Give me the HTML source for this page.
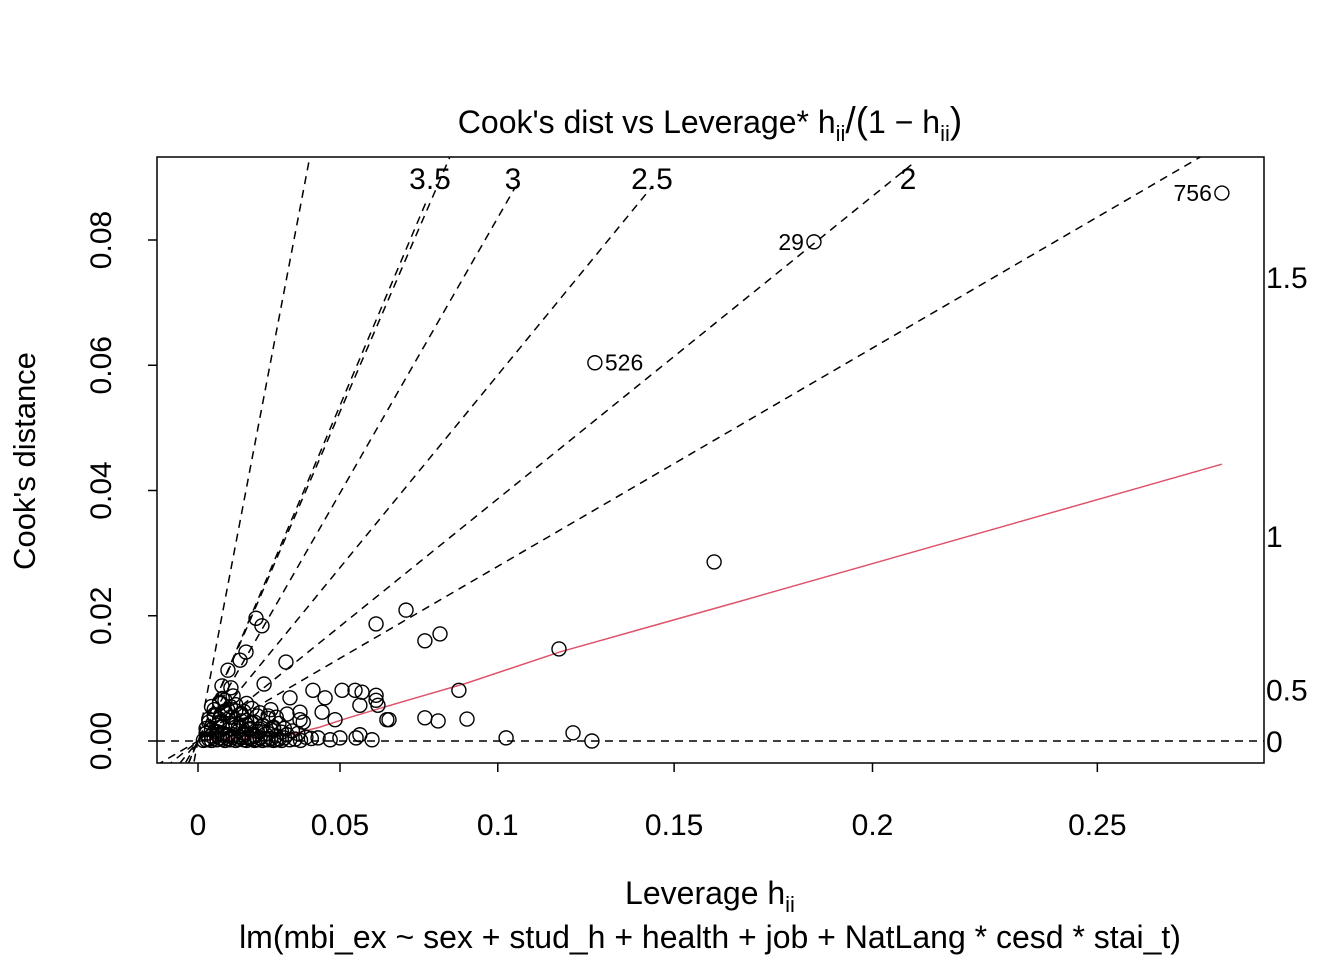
<!DOCTYPE html>
<html><head><meta charset="utf-8"><style>
html,body{margin:0;padding:0;background:#fff;overflow:hidden;width:1344px;height:960px;}
svg{display:block;font-family:"Liberation Sans",Arial,sans-serif;}
</style></head><body>
<svg id="chart" width="1344" height="960" viewBox="0 0 1344 960">
<rect width="1344" height="960" fill="#fff"/>
<text x="710" y="133" font-size="32" text-anchor="middle">Cook's dist vs Leverage* h<tspan font-size="22" dy="8">ii</tspan><tspan dy="-8" font-size="37">/(</tspan>1 − h<tspan font-size="22" dy="8">ii</tspan><tspan dy="-8" font-size="37">)</tspan></text>
<text x="710" y="904" font-size="32" text-anchor="middle">Leverage  h<tspan font-size="22" dy="8">ii</tspan></text>
<text x="710" y="948" font-size="32" text-anchor="middle">lm(mbi_ex ~ sex + stud_h + health + job + NatLang * cesd * stai_t)</text>
<text transform="translate(35,461) rotate(-90)" font-size="31" text-anchor="middle">Cook's distance</text>
<defs><clipPath id="plotclip"><rect x="157" y="157" width="1107" height="606"/></clipPath></defs>
<g id="lines" clip-path="url(#plotclip)"></g>
<g id="points"></g>
<g id="axes"></g>
<rect x="157" y="157" width="1107" height="606" fill="none" stroke="#000" stroke-width="1.5"/>
</svg>
<script>
const xTicks=[0,0.05,0.1,0.15,0.2,0.25];
const yTicks=[0,0.02,0.04,0.06,0.08];
const contourSlopes=[0.251,0.348,0.526,0.752,1.018,0.999,2.25];
const contourEnds=[0.1,0.092,0.0885,0.0885,0.0864,0.1,0.1];
const contourLabels=["","2","2.5","3","","3.5",""];
const contourLabelX=[0,908,652,513,0,430,0];
const rightLabels=["1.5","1","0.5","0"];
const rightLabelCook=[0.0741,0.0327,0.0082,0];
const leverageG=[0.3795,0.2283,0.1471,0.1913,0.1338,0.0967,0.0997,0.0771,0.0897,0.0841,0.066,0.1142,0.139,0.146,0.089,0.0841,0.0708,0.0215,0.0237,0.0156,0.0178,0.0326,0.0111,0.0245,0.0122,0.0089,0.0426,0.0534,0.0582,0.0608,0.066,0.066,0.0667,0.06,0.0471,0.0341,0.07,0.0508,0.046,0.0378,0.0378,0.0526,0.0586,0.0645,0.06,0.0445,0.049,
0.002,0.003,0.004,0.005,0.006,0.007,0.008,0.009,0.010,0.011,0.012,0.013,0.014,0.015,0.016,0.017,0.018,0.019,0.020,0.021,0.022,0.023,0.024,0.025,0.026,0.027,0.028,0.029,0.030,0.031,0.032,0.034,0.036,0.038,0.040,0.042,
0.003,0.005,0.007,0.009,0.011,0.013,0.015,0.017,0.019,0.021,0.023,0.025,0.027,0.029,0.031,0.033,0.035,0.037,
0.004,0.006,0.008,0.010,0.012,0.014,0.016,0.018,0.020,0.022,0.024,0.026,0.028,0.030,0.032,
0.005,0.008,0.011,0.014,0.017,0.020,0.023,0.026,0.029,0.009,0.013,0.018,0.027,0.033,0.039,
0.003,0.004,0.006,0.007,0.008,0.010,0.012,0.013,0.015,0.016,0.018,0.019,0.021,0.022,0.024,0.026,0.028,0.005,0.007,0.009,0.011,0.013,0.015,0.017,0.019,0.021,0.006,0.008,0.010,0.012,0.014,0.016];
const cookD=[0.0875,0.0797,0.0604,0.0286,0.0147,0.0081,0.0035,0.0209,0.0171,0.016,0.0187,0.0005,0.0013,0.0,0.0032,0.0037,0.0034,0.0196,0.0184,0.0129,0.0142,0.0126,0.0113,0.0091,0.0085,0.0088,0.0081,0.0081,0.0081,0.0078,0.0073,0.0065,0.0057,0.0057,0.0069,0.0069,0.0034,0.0034,0.0046,0.0046,0.0034,0.0005,0.0005,0.0002,0.001,0.0005,0.0002,
0.0001,0.0002,0.0003,0.0001,0.0004,0.0002,0.0005,0.0003,0.0001,0.0004,0.0002,0.0006,0.0001,0.0003,0.0005,0.0002,0.0001,0.0004,0.0003,0.0001,0.0002,0.0005,0.0001,0.0003,0.0002,0.0004,0.0001,0.0002,0.0003,0.0001,0.0005,0.0002,0.0003,0.0001,0.0006,0.0004,
0.0012,0.0018,0.0015,0.0022,0.0010,0.0025,0.0016,0.0013,0.0020,0.0009,0.0015,0.0011,0.0018,0.0008,0.0014,0.0010,0.0016,0.0012,
0.0035,0.0042,0.0030,0.0048,0.0038,0.0027,0.0044,0.0033,0.0029,0.0040,0.0025,0.0036,0.0022,0.0028,0.0020,
0.0055,0.0062,0.0050,0.0058,0.0047,0.0052,0.0045,0.0040,0.0038,0.0068,0.0072,0.0060,0.0050,0.0043,0.0030,
0.0020,0.0030,0.0040,0.0025,0.0035,0.0045,0.0028,0.0038,0.0022,0.0032,0.0026,0.0018,0.0030,0.0015,0.0024,0.0012,0.0020,0.0008,0.0010,0.0012,0.0008,0.0010,0.0007,0.0009,0.0006,0.0008,0.0050,0.0060,0.0065,0.0055,0.0048,0.0042];
const labelNames=["756","29","526"];
const labelIdx=[0,1,2];
const smoothG=[0.0026,0.02,0.035,0.045,0.055,0.065,0.08,0.1,0.134,0.2,0.3795];
const smoothC=[0.0002,0.0005,0.0011,0.0022,0.0036,0.0049,0.0068,0.0093,0.0142,0.0222,0.0442];

const NS="http://www.w3.org/2000/svg";
const X0=198,KX=2698,Y0=741,KY=6262.5;
const xs=g=>X0+KX*g, ys=c=>Y0-KY*c, hToG=h=>h/(1-h);
function mk(tag,at,parent){const e=document.createElementNS(NS,tag);for(const k in at)e.setAttribute(k,at[k]);parent.appendChild(e);return e;}
const L=document.getElementById('lines'),P=document.getElementById('points'),A=document.getElementById('axes');
let hz=mk('line',{x1:157,x2:1264,y1:ys(0),y2:ys(0),stroke:'#000','stroke-width':1.5,'stroke-dasharray':'8,6'},L);


contourSlopes.forEach((s,i)=>{
  const gA=-0.02, gB=contourEnds[i]/s;
  const ln=mk('line',{x1:xs(gA),y1:ys(s*gA),x2:xs(gB),y2:ys(s*gB),stroke:'#000','stroke-width':1.5,'stroke-dasharray':'8,6'},L);
  
  
  if(!contourLabels[i])return;
  const t=mk('text',{x:contourLabelX[i],y:189,'font-size':30,'text-anchor':'middle'},A);
  t.textContent=contourLabels[i];
  
  
});
rightLabels.forEach((lab,i)=>{
  const t=mk('text',{x:1266,y:ys(rightLabelCook[i])+11,'font-size':30},A);
  t.textContent=lab;
  
  
});
let d='';smoothG.forEach((g,i)=>{d+=(i?'L':'M')+xs(g)+','+ys(smoothC[i]);});
const sm=mk('path',{d:d,fill:'none',stroke:'#DF536B','stroke-width':1.5},P);


leverageG.forEach((g,i)=>{
  const c=mk('circle',{cx:xs(g),cy:ys(cookD[i]),r:7,fill:'none',stroke:'#000','stroke-width':1.4},P);
  
  
});
labelIdx.forEach((k,j)=>{
  const right=labelNames[j]==='526';
  const t=mk('text',{x:xs(leverageG[k])+(right?10:-10),y:ys(cookD[k])+8,'font-size':23,'text-anchor':right?'start':'end'},P);
  t.textContent=labelNames[j];
  
  
});
xTicks.forEach(h=>{
  const x=xs(hToG(h));
  const tk=mk('line',{x1:x,x2:x,y1:763,y2:772,stroke:'#000','stroke-width':1.5},A);
  
  
  const t=mk('text',{x:x,y:835,'font-size':30,'text-anchor':'middle'},A);
  t.textContent=String(h);
  
  
});
yTicks.forEach(c=>{
  const y=ys(c);
  const tk=mk('line',{x1:148,x2:157,y1:y,y2:y,stroke:'#000','stroke-width':1.5},A);
  
  
  const t=mk('text',{transform:`translate(111,${y}) rotate(-90)`,'font-size':30,'text-anchor':'middle'},A);
  t.textContent=c.toFixed(2);
  
  
});
</script>
</body></html>
